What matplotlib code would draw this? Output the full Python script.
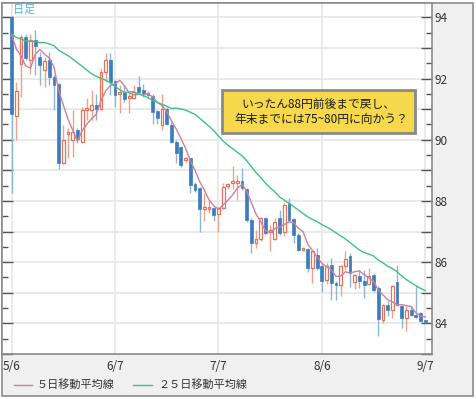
import numpy as np
import pandas as pd
import matplotlib
matplotlib.use('Agg')
import matplotlib.pyplot as plt
from matplotlib.patches import Rectangle
from matplotlib.lines import Line2D
from matplotlib.ticker import FixedLocator, FuncFormatter

plt.rcParams['font.family'] = ['Noto Sans CJK JP', 'DejaVu Sans']

# --- data (USD/JPY daily) ---
# closes of the 24 trading days before 5/6, only used to start the moving averages
prev_close = [94.6, 94.5, 94.3, 93.6, 93.2, 93.3, 92.6, 93.1, 93.2, 93.0, 92.2, 92.5,
              93.0, 93.1, 93.8, 94.2, 94.1, 93.0, 94.0, 94.1, 93.9, 94.5, 94.3, 93.6]

open_ = [94.01, 90.77, 92.49, 93.36, 92.62, 93.25, 92.71, 92.29, 92.60, 92.05,
         91.82, 89.23, 90.18, 90.00, 90.32, 89.93, 90.97, 90.97, 91.15, 91.00,
         92.22, 92.60, 91.93, 91.50, 91.55, 91.35, 91.35, 91.73, 91.62, 91.52,
         91.43, 90.93, 90.48, 91.02, 90.48, 89.94, 89.75, 89.34, 89.39, 88.55,
         88.41, 87.74, 87.73, 87.76, 87.57, 87.76, 88.49, 88.58, 88.60, 88.66,
         88.38, 87.38, 86.64, 86.75, 87.43, 87.00, 86.75, 87.43, 87.00, 87.92,
         87.40, 86.90, 86.40, 86.42, 85.81, 86.25, 85.86, 85.42, 85.92, 85.32,
         85.26, 85.86, 86.20, 85.35, 85.54, 85.40, 85.30, 85.59, 85.15, 84.12,
         84.61, 84.45, 85.34, 84.56, 84.18, 84.45, 84.27, 84.34, 84.10]
high = [94.05, 91.89, 93.41, 93.45, 93.47, 93.60, 92.87, 92.71, 92.87, 92.11,
        91.85, 90.48, 90.37, 90.97, 90.37, 91.08, 91.38, 91.64, 91.51, 92.33,
        92.82, 92.82, 91.97, 91.80, 91.78, 91.56, 91.78, 92.08, 91.82, 91.60,
        91.51, 90.96, 91.51, 91.08, 90.59, 89.99, 89.80, 89.45, 89.39, 88.63,
        88.46, 88.25, 88.03, 87.82, 87.82, 88.58, 88.60, 89.14, 88.85, 89.07,
        88.41, 87.43, 87.05, 87.49, 87.49, 87.22, 87.43, 87.71, 87.92, 88.09,
        87.43, 86.95, 86.51, 86.45, 86.40, 86.46, 85.97, 85.96, 86.14, 85.37,
        85.92, 86.35, 86.30, 85.62, 85.76, 85.76, 85.81, 85.65, 85.21, 84.65,
        84.72, 85.26, 85.92, 84.61, 84.56, 84.61, 85.21, 84.36, 84.12]
low = [88.27, 89.99, 91.40, 92.60, 92.16, 92.11, 91.78, 91.73, 91.78, 90.97,
       89.03, 89.21, 89.39, 89.45, 89.88, 89.90, 90.64, 90.64, 90.64, 90.97,
       91.89, 91.45, 91.08, 90.88, 91.24, 90.86, 91.33, 91.51, 91.40, 91.35,
       90.53, 90.53, 90.32, 90.48, 89.88, 89.23, 89.12, 89.29, 88.25, 88.30,
       87.00, 87.33, 87.60, 87.33, 87.00, 87.73, 88.38, 88.38, 88.03, 88.36,
       87.32, 86.29, 86.46, 86.68, 86.90, 86.35, 86.73, 86.90, 86.84, 87.32,
       86.62, 86.35, 86.35, 85.67, 85.32, 85.76, 85.04, 85.30, 84.77, 84.77,
       84.90, 85.76, 85.20, 85.12, 85.15, 84.83, 85.26, 85.04, 83.58, 84.00,
       84.23, 84.18, 84.56, 83.85, 83.74, 84.23, 84.18, 84.04, 84.00]
close = [90.84, 91.59, 93.36, 92.67, 93.25, 93.05, 92.43, 92.58, 92.05, 91.80,
         89.23, 89.99, 90.26, 90.25, 90.04, 90.97, 91.03, 91.15, 90.99, 92.22,
         92.60, 91.89, 91.45, 91.56, 91.32, 91.43, 91.56, 91.56, 91.50, 91.46,
         90.91, 90.70, 91.02, 90.53, 89.94, 89.58, 89.18, 89.39, 88.52, 88.35,
         87.73, 87.79, 87.79, 87.55, 87.78, 88.45, 88.55, 88.64, 88.66, 88.41,
         87.38, 86.64, 86.75, 87.43, 86.95, 87.05, 87.32, 86.97, 87.87, 87.38,
         86.90, 86.40, 86.45, 85.81, 86.35, 85.82, 85.40, 85.88, 85.32, 85.26,
         85.86, 86.12, 85.65, 85.57, 85.37, 85.26, 85.56, 85.10, 84.14, 84.61,
         84.45, 85.21, 84.61, 84.18, 84.45, 84.29, 84.21, 84.07, 84.04]

date_ticks = [0, 22, 44, 66, 88]
date_labels = ['5/6', '6/7', '7/7', '8/6', '9/7']

note_lines = ['いったん88円前後まで戻し、', '年末までには75~80円に向かう？']
legend_labels = ['５日移動平均線', '２５日移動平均線']

# --- helpers: pixel -> figure fraction ---
W, H = 476, 399
def fx(px):
    return px / W
def fy(py):
    return 1 - py / H

O = np.array(open_); Hh = np.array(high); L = np.array(low); C = np.array(close)
x = np.arange(len(C))
allc = pd.Series(prev_close + close)
ma5 = allc.rolling(5).mean().values[len(prev_close):]
ma25 = allc.rolling(25).mean().values[len(prev_close):]

fig = plt.figure(figsize=(4.76, 3.99), dpi=100)
fig.patch.set_facecolor('white')
fig.add_artist(Rectangle((fx(2), fy(396)), fx(473) - fx(2), fy(3) - fy(396),
                         transform=fig.transFigure, facecolor='#f0f0f0',
                         edgecolor='#8c8c8c', lw=1.2, zorder=0))

ax = fig.add_axes([fx(2), fy(354), fx(432) - fx(2), fy(3) - fy(354)])
ax.set_facecolor('white')
ax.set_xlim(-2.06, 89.43)
ax.set_ylim(83.0, 94.47)

# candles
up = C >= O
dn = ~up
ax.vlines(x[up], L[up], Hh[up], color='#f0a28c', lw=1, zorder=2)
ax.vlines(x[dn], L[dn], Hh[dn], color='#8cb6dc', lw=1, zorder=2)
body_lo = np.minimum(O, C)
body_h = np.maximum(np.abs(C - O), 0.03)
ax.bar(x[up], body_h[up], bottom=body_lo[up], width=0.6, facecolor='white',
       edgecolor='#e2735a', lw=0.9, zorder=3)
ax.bar(x[dn], body_h[dn], bottom=body_lo[dn], width=0.6, facecolor='#3d7dbd',
       edgecolor='#3d7dbd', lw=0.5, zorder=3)

# moving averages
ax.plot(x, ma5, color='#d07fa0', lw=1, zorder=4)
ax.plot(x, ma25, color='#3cc383', lw=1, zorder=4)

# axes styling
for s in ax.spines.values():
    s.set_color('#8c8c8c')
    s.set_linewidth(1.2)
ax.yaxis.set_major_locator(FixedLocator(range(83, 95)))
ax.yaxis.set_minor_locator(FixedLocator(np.arange(83.5, 94.5, 1)))
ax.yaxis.set_major_formatter(FuncFormatter(
    lambda v, p: f'{int(round(v))}' if int(round(v)) % 2 == 0 else ''))
ax.tick_params(axis='y', which='major', direction='in', left=True, right=True,
               labelleft=False, labelright=True, length=8, width=1, color='#555555',
               labelsize=8.5, labelcolor='#333333', pad=1.5)
ax.tick_params(axis='y', which='minor', direction='in', left=True, right=True,
               length=4, width=1, color='#555555')
ax.set_xticks(date_ticks)
ax.set_xticklabels(date_labels)
ax.tick_params(axis='x', length=0, pad=4, labelsize=8.5, labelcolor='#333333')
ax.grid(True, which='major', color='#e8e8e8', lw=1.3)
ax.set_axisbelow(True)

fig.text(fx(13), fy(10), '日足', va='center', ha='left', color='#4fb6ea',
         fontsize=8, zorder=6)

# note box
fig.add_artist(Rectangle((fx(222), fy(133)), fx(415) - fx(222), fy(90) - fy(133),
                         transform=fig.transFigure, facecolor='#f6d94b',
                         edgecolor='#8a8a8a', lw=2, zorder=5))
fig.text(fx(319), fy(104), note_lines[0], ha='center', va='center', fontsize=8.5,
         color='#1a1a1a', zorder=6)
fig.text(fx(321), fy(120), note_lines[1], ha='center', va='center', fontsize=8.5,
         color='#1a1a1a', zorder=6)

# legend
for (x0, x1, tx), col, lab in zip([(14, 32, 37), (133, 152, 158)],
                                  ['#d07fa0', '#3cc383'], legend_labels):
    fig.add_artist(Line2D([fx(x0), fx(x1)], [fy(385), fy(385)], color=col, lw=1,
                          transform=fig.transFigure))
    fig.text(fx(tx), fy(385), lab, ha='left', va='center', fontsize=8,
             color='#333333')

fig.savefig('out.png', dpi=100)
